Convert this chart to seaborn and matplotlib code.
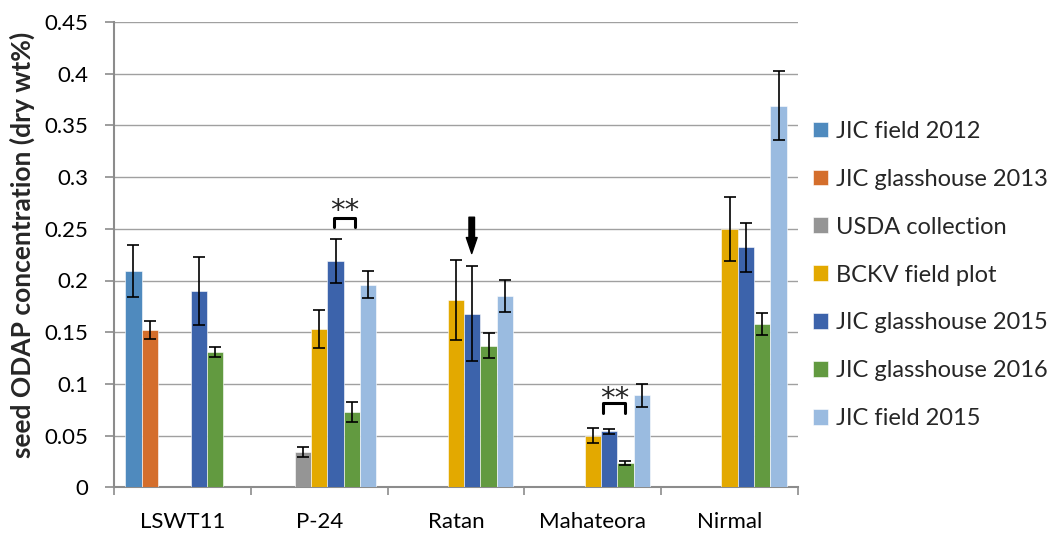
import numpy as np
import pandas as pd
import matplotlib
matplotlib.use("Agg")
import matplotlib.pyplot as plt
import seaborn as sns

nan = np.nan

# Lines (cultivars) on the x axis
categories = ["LSWT11", "P-24", "Ratan", "Mahateora", "Nirmal"]

# Growing environment / seed source series
series = [
    "JIC field 2012",
    "JIC glasshouse 2013",
    "USDA collection",
    "BCKV field plot",
    "JIC glasshouse 2015",
    "JIC glasshouse 2016",
    "JIC field 2015",
]

# Mean seed ODAP (dry wt%) per series, one value per cultivar
jic_field_2012 = [0.209, nan, nan, nan, nan]
jic_glasshouse_2013 = [0.152, nan, nan, nan, nan]
usda_collection = [nan, 0.034, nan, nan, nan]
bckv_field_plot = [nan, 0.153, 0.181, 0.050, 0.250]
jic_glasshouse_2015 = [0.190, 0.219, 0.168, 0.054, 0.232]
jic_glasshouse_2016 = [0.131, 0.073, 0.137, 0.0235, 0.158]
jic_field_2015 = [nan, 0.196, 0.185, 0.089, 0.369]

# Error bar half-widths
err_jic_field_2012 = [0.025, nan, nan, nan, nan]
err_jic_glasshouse_2013 = [0.009, nan, nan, nan, nan]
err_usda_collection = [nan, 0.0045, nan, nan, nan]
err_bckv_field_plot = [nan, 0.018, 0.039, 0.0074, 0.031]
err_jic_glasshouse_2015 = [0.033, 0.021, 0.046, 0.0023, 0.024]
err_jic_glasshouse_2016 = [0.005, 0.0097, 0.0124, 0.002, 0.0107]
err_jic_field_2015 = [nan, 0.013, 0.0153, 0.011, 0.0333]

y_ticks = [0, 0.05, 0.1, 0.15, 0.2, 0.25, 0.3, 0.35, 0.4, 0.45]
y_tick_labels = ["0", "0.05", "0.1", "0.15", "0.2", "0.25", "0.3", "0.35", "0.4", "0.45"]

colors = ["#4F8ABE", "#D46E2C", "#959595", "#E3A900", "#3C63AB", "#629A40", "#9ABBE0"]

values = [jic_field_2012, jic_glasshouse_2013, usda_collection, bckv_field_plot,
          jic_glasshouse_2015, jic_glasshouse_2016, jic_field_2015]
errors = [err_jic_field_2012, err_jic_glasshouse_2013, err_usda_collection,
          err_bckv_field_plot, err_jic_glasshouse_2015, err_jic_glasshouse_2016,
          err_jic_field_2015]

rows = []
for s, vals, errs in zip(series, values, errors):
    for c, v, e in zip(categories, vals, errs):
        rows.append({"cultivar": c, "source": s, "odap": v, "err": e})
df = pd.DataFrame(rows).dropna(subset=["odap"])

sns.set_theme(style="white")
plt.rcParams["font.family"] = ["Lato", "DejaVu Sans"]

fig = plt.figure(figsize=(10.56, 5.33), dpi=100)
ax = fig.add_axes([114 / 1056, 1 - 487.3 / 533, (798 - 114) / 1056, (487.3 - 22) / 533])

sns.barplot(data=df, x="cultivar", y="odap", hue="source",
            order=categories, hue_order=series, palette=colors,
            width=0.835, dodge=True, errorbar=None, saturation=1,
            edgecolor="white", linewidth=0.4, ax=ax, zorder=3)

# Error bars placed on the drawn bars
err_lookup = {(r.source, r.cultivar): r.err for r in df.itertuples()}
for s, container in zip(series, ax.containers):
    for bar in container:
        h = bar.get_height()
        if not np.isfinite(h):
            continue
        xc = bar.get_x() + bar.get_width() / 2
        cat = categories[int(round(xc))]
        e = err_lookup.get((s, cat), nan)
        if np.isfinite(e):
            ax.errorbar(xc, h, yerr=e, fmt="none", ecolor="black",
                        elinewidth=1.2, capsize=4.6, capthick=1.2, zorder=5)

ax.set_xlim(-0.5, len(categories) - 0.5)
ax.set_ylim(0, 0.45)
ax.set_yticks(y_ticks)
ax.set_yticklabels(y_tick_labels)
ax.yaxis.grid(True, color="#A0A0A0", linewidth=1.0, zorder=0)
ax.set_axisbelow(True)

ax.set_xticks(range(len(categories)))
ax.set_xticklabels(categories)
ax.set_xticks(np.arange(-0.5, len(categories)), minor=True)
ax.tick_params(axis="x", which="major", length=0, pad=18, labelsize=16, colors="black")
ax.tick_params(axis="x", which="minor", length=5.5, width=1.2, color="#8C8C8C", bottom=True)
ax.tick_params(axis="y", length=6.5, width=1.2, color="#8C8C8C", pad=12,
               labelsize=16, left=True, labelcolor="black")
ax.set_xlabel("")
ax.set_ylabel("")

for side in ["top", "right"]:
    ax.spines[side].set_visible(False)
for side in ["left", "bottom"]:
    ax.spines[side].set_color("#8C8C8C")
    ax.spines[side].set_linewidth(1.5)

fig.text(22 / 1056, 1 - 244.5 / 533, "seed ODAP concentration (dry wt%)",
         rotation=90, ha="center", va="center", fontsize=19, fontweight="bold")

# Significance brackets
def bracket(x0, x1, ytop, ybot, xt, yt):
    ax.plot([x0, x0, x1, x1], [ybot, ytop, ytop, ybot], color="black",
            linewidth=2.2, solid_joinstyle="round", zorder=6)
    ax.text(xt, yt, "**", ha="center", va="center", fontsize=21,
            family="DejaVu Sans", zorder=6)

bracket(1.108, 1.264, 0.2606, 0.2519, 1.19, 0.267)
bracket(3.077, 3.238, 0.0812, 0.0715, 3.158, 0.085)

# Arrow marking the Ratan glasshouse 2015 bar
ax.annotate("", xy=(2.115, 0.2261), xytext=(2.115, 0.2612),
            arrowprops=dict(facecolor="black", edgecolor="black", width=4.0,
                            headwidth=7.8, headlength=11.5, shrink=0), zorder=6)

handles, labels = ax.get_legend_handles_labels()
if ax.legend_:
    ax.legend_.remove()
fig.legend(handles, labels, loc="center left",
           bbox_to_anchor=(813 / 1056, 1 - 275 / 533), frameon=False,
           fontsize=17, handlelength=0.64, handleheight=0.64,
           handletextpad=0.35, labelspacing=1.14, borderpad=0, borderaxespad=0)

fig.savefig("out.png", dpi=100)
